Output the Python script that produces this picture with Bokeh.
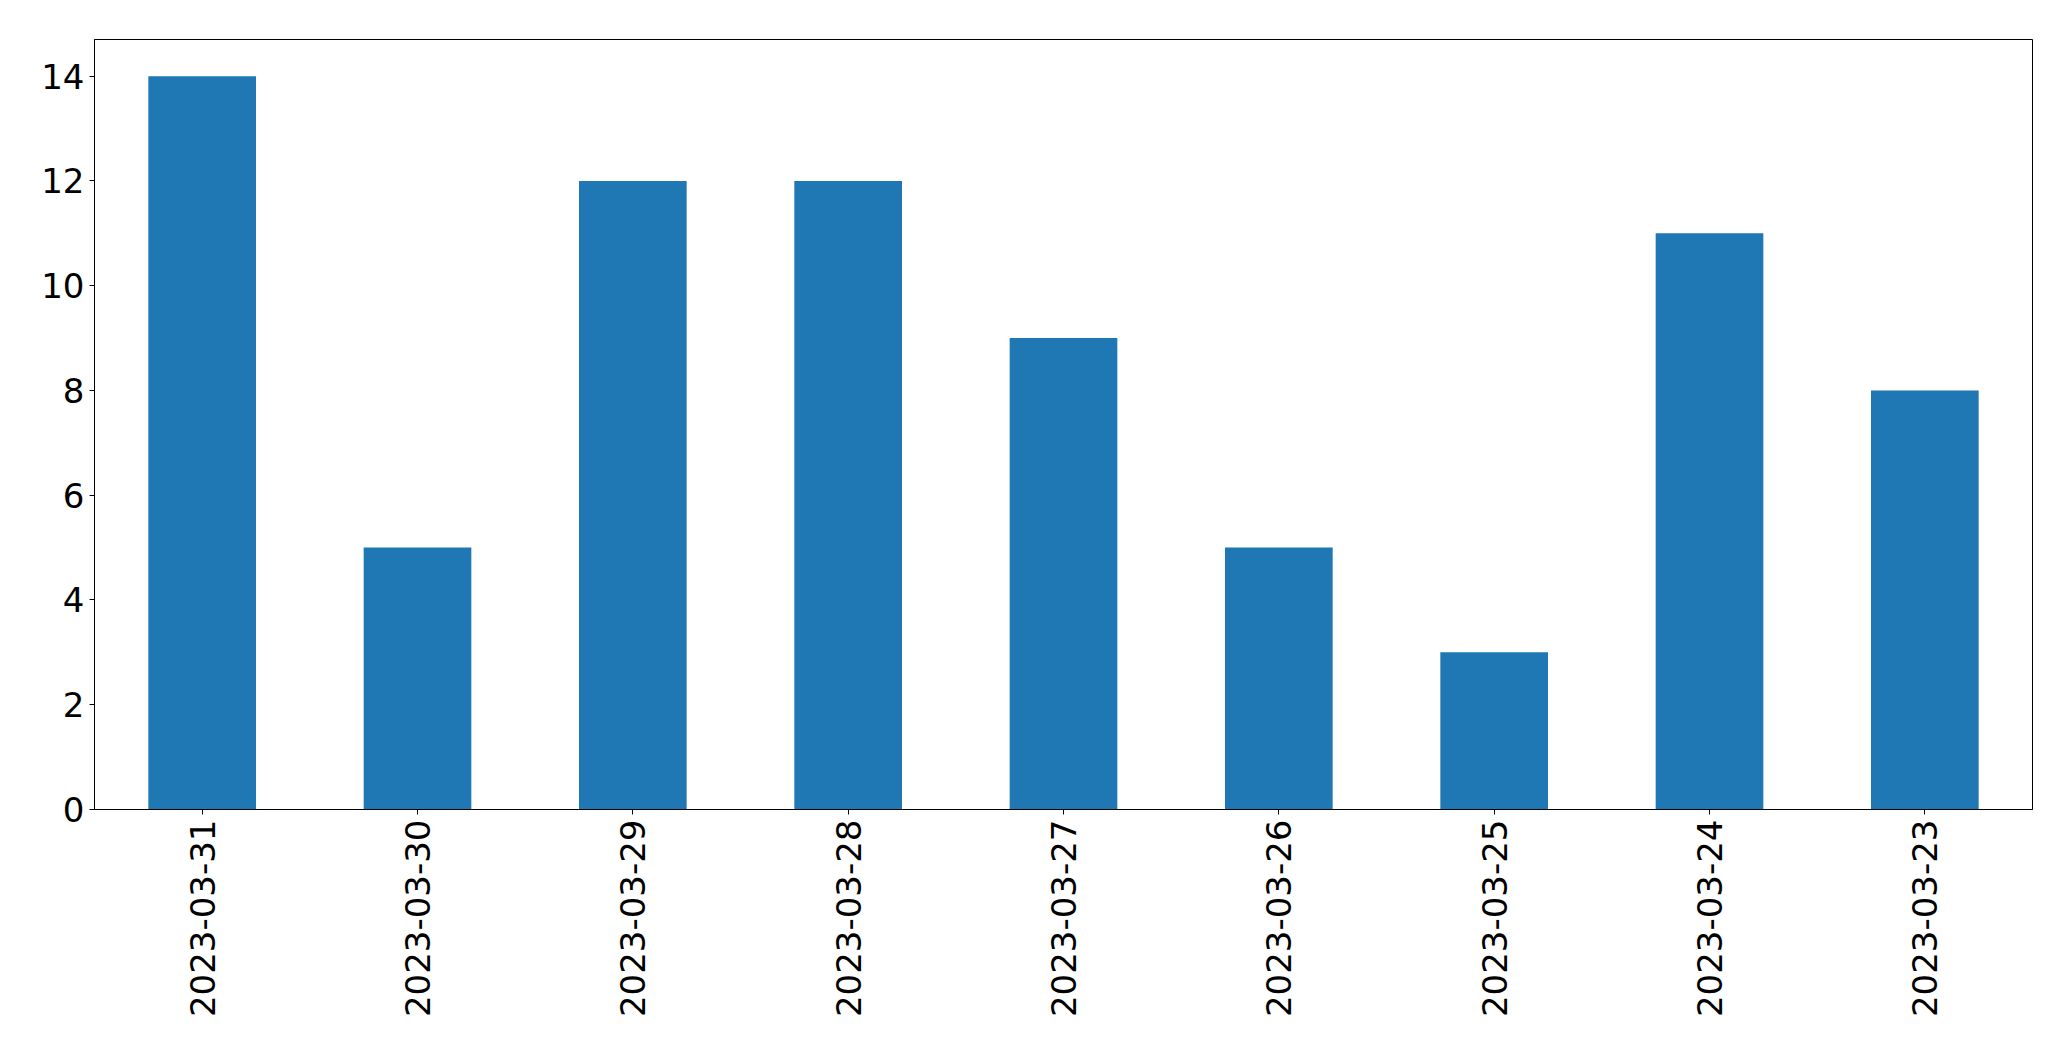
import math
from bokeh.plotting import figure
from bokeh.models import FactorRange, Range1d, FixedTicker, ColumnDataSource
from bokeh.embed import file_html
from bokeh.resources import INLINE

dates = ["2023-03-31", "2023-03-30", "2023-03-29", "2023-03-28", "2023-03-27",
         "2023-03-26", "2023-03-25", "2023-03-24", "2023-03-23"]
counts = [14, 5, 12, 12, 9, 5, 3, 11, 8]
y_ticks = [0, 2, 4, 6, 8, 10, 12, 14]

src = ColumnDataSource(dict(date=dates, count=counts))

p = figure(x_range=FactorRange(factors=dates, range_padding=0),
           y_range=Range1d(0, max(counts) * 1.05),
           frame_width=1938, frame_height=770,
           min_border_left=94, min_border_top=39, min_border_right=20,
           min_border_bottom=225,
           output_backend="svg", toolbar_location=None)

p.vbar(x="date", top="count", width=0.5, source=src,
       fill_color="#1f77b4", line_color=None)

p.xgrid.visible = False
p.ygrid.visible = False
p.outline_line_color = "black"
p.outline_line_width = 1
p.outline_line_alpha = 1
p.background_fill_color = "white"
p.border_fill_color = "white"

p.yaxis.ticker = FixedTicker(ticks=y_ticks)
for ax in (p.xaxis, p.yaxis):
    ax.major_label_text_font = "DejaVu Sans"
    ax.major_label_text_font_size = "34px"
    ax.major_label_text_color = "black"
    ax.axis_line_color = "black"
    ax.major_tick_line_color = "black"
    ax.major_tick_out = 5
    ax.major_tick_in = 0
    ax.minor_tick_line_color = None
    ax.major_label_standoff = 5
p.xaxis.major_label_orientation = math.pi / 2

open("out.html", "w").write(file_html(p, INLINE))
